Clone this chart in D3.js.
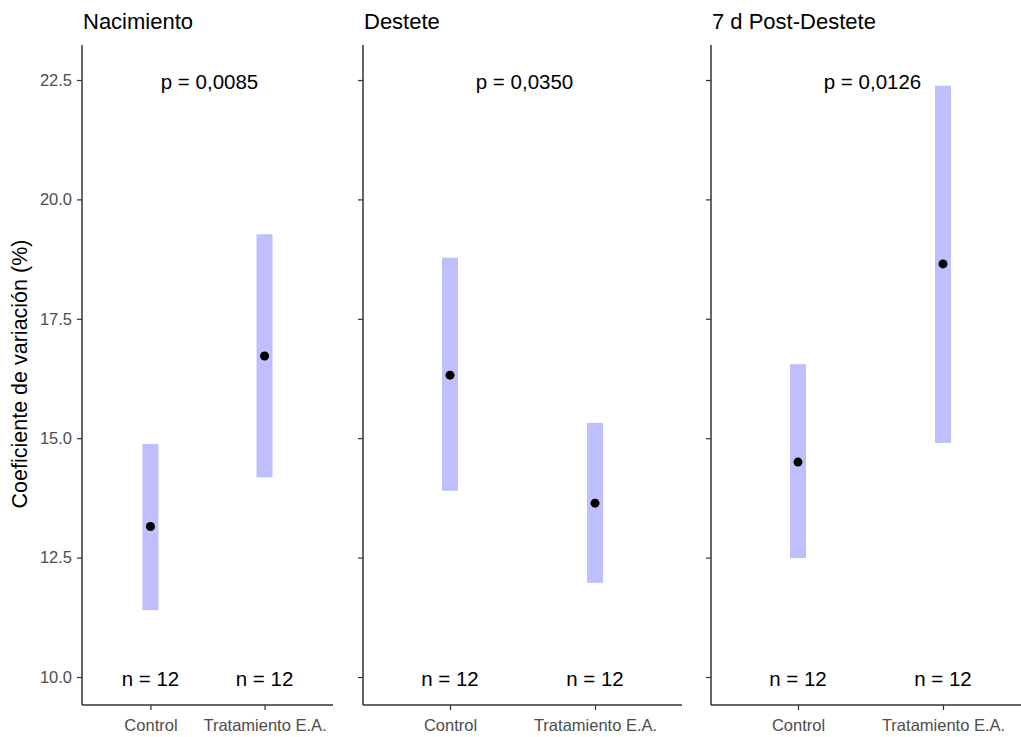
<!DOCTYPE html>
<html>
<head>
<meta charset="utf-8">
<script src="https://cdnjs.cloudflare.com/ajax/libs/d3/7.8.5/d3.min.js"></script>
<style>
  body { margin: 0; background: #fff; }
  svg { font-family: "Liberation Sans", Arial, sans-serif; }
  .axis path, .axis line { stroke: #333; }
  .axis text { fill: #4d4d4d; font-size: 16.5px; }
</style>
</head>
<body>
<div id="chart"></div>
<script>
// Data
const panels = ["Nacimiento", "Destete", "7 d Post-Destete"];
const groups = ["Control", "Tratamiento E.A."];
const pLabels = ["p = 0,0085", "p = 0,0350", "p = 0,0126"];
const nLabels = ["n = 12", "n = 12"];
// per panel: [Control, Tratamiento E.A.]
const means = [[13.15, 16.72], [16.32, 13.64], [14.50, 18.65]];
const lowers = [[11.40, 14.18], [13.90, 11.97], [12.49, 14.90]];
const uppers = [[14.88, 19.27], [18.78, 15.32], [16.55, 22.38]];
const yTicks = [10.0, 12.5, 15.0, 17.5, 20.0, 22.5];

const width = 1021, height = 737;
const svg = d3.select("#chart").append("svg")
    .attr("width", width)
    .attr("height", height);

// Panel extents (left, right) in pixels; last panel runs past the edge
const panelX = [[82, 333], [363, 682], [711, 1030]];
const yTop = 45, yBottom = 705;

const y = d3.scaleLinear()
    .domain([10, 22.5])
    .range([677, 80]);

// y axis title
svg.append("text")
    .attr("transform", `translate(27,${(yTop + yBottom) / 2 - 1}) rotate(-90)`)
    .attr("text-anchor", "middle")
    .attr("font-size", 21.5)
    .attr("fill", "#000")
    .text("Coeficiente de variación (%)");

panels.forEach((title, i) => {
    const [x0, x1] = panelX[i];
    const g = svg.append("g");

    // discrete scale with ggplot-like expansion of 0.6
    const x = d3.scalePoint()
        .domain(groups)
        .range([x0, x1])
        .padding(0.6);

    g.append("text")
        .attr("x", x0 + 1)
        .attr("y", 29)
        .attr("font-size", 22)
        .attr("fill", "#000")
        .text(title);

    // y axis
    const yAxis = g.append("g")
        .attr("class", "axis")
        .attr("transform", `translate(${x0},0)`)
        .call(d3.axisLeft(y).tickValues(yTicks).tickFormat(i === 0 ? d3.format(".1f") : "").tickSize(5).tickPadding(5));
    yAxis.select(".domain").attr("d", `M0,${yTop}V${yBottom}`).attr("stroke-width", 1.5);
    yAxis.selectAll(".tick line").attr("stroke-width", 1.2);

    // x axis
    const xAxis = g.append("g")
        .attr("class", "axis")
        .attr("transform", `translate(0,${yBottom})`)
        .call(d3.axisBottom(x).tickSize(5));
    xAxis.select(".domain").attr("d", `M${x0},0H${x1}`).attr("stroke-width", 1.5);
    xAxis.selectAll(".tick line").attr("stroke-width", 1.2);
    xAxis.selectAll(".tick text").attr("y", 26).attr("dy", 0);

    // interval bars
    g.selectAll(".bar")
        .data(groups)
        .enter().append("rect")
        .attr("class", "bar")
        .attr("x", d => x(d) - 8)
        .attr("width", 16)
        .attr("y", (d, j) => y(uppers[i][j]))
        .attr("height", (d, j) => y(lowers[i][j]) - y(uppers[i][j]))
        .attr("fill", "#bfbfff");

    // means
    g.selectAll(".dot")
        .data(groups)
        .enter().append("circle")
        .attr("cx", d => x(d))
        .attr("cy", (d, j) => y(means[i][j]))
        .attr("r", 4.5)
        .attr("fill", "#000");

    // p value
    g.append("text")
        .attr("x", (x0 + x1) / 2 + 2)
        .attr("y", y(22.5) + 9)
        .attr("text-anchor", "middle")
        .attr("font-size", 20.5)
        .attr("fill", "#000")
        .text(pLabels[i]);

    // n labels
    g.selectAll(".nlab")
        .data(groups)
        .enter().append("text")
        .attr("x", d => x(d))
        .attr("y", y(10) + 9)
        .attr("text-anchor", "middle")
        .attr("font-size", 20.5)
        .attr("fill", "#000")
        .text((d, j) => nLabels[j]);
});
</script>
</body>
</html>
